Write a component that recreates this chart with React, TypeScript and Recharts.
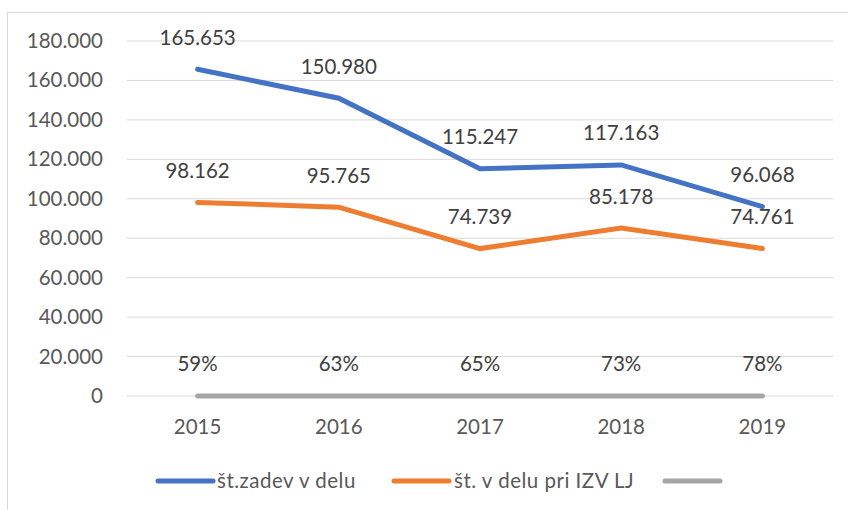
import React from 'react';
import { LineChart, Line, XAxis, YAxis, CartesianGrid, LabelList } from 'recharts';

if (typeof document !== 'undefined') {
  document.body.style.margin = '0';
}

const years = ['2015', '2016', '2017', '2018', '2019'];
const zadev = [165653, 150980, 115247, 117163, 96068];
const izvLj = [98162, 95765, 74739, 85178, 74761];
const share = [0.59, 0.63, 0.65, 0.73, 0.78];
const yTicks = [0, 20000, 40000, 60000, 80000, 100000, 120000, 140000, 160000, 180000];

const seriesNames = ['št.zadev v delu', 'št. v delu pri IZV LJ', ''];
const colors = ['#4472C4', '#ED7D31', '#A5A5A5'];

const data = years.map((y, i) => ({ year: y, a: zadev[i], b: izvLj[i], c: share[i] }));

const FONT = 'Lato, "Open Sans", sans-serif';

const fmtThousands = (v: number) => {
  const s = Math.round(v).toString();
  return s.replace(/\B(?=(\d{3})+(?!\d))/g, '.');
};

const YTick = (props: any) => {
  const { y, payload } = props;
  return (
    <text x={103} y={y + 7} textAnchor="end" fontFamily={FONT} fontSize={20.5} fill="#595959">
      {fmtThousands(payload.value)}
    </text>
  );
};

const XTick = (props: any) => {
  const { x, payload } = props;
  return (
    <text x={x} y={434} textAnchor="middle" fontFamily={FONT} fontSize={20.5} fill="#595959">
      {payload.value}
    </text>
  );
};

const makeLabel = (fmt: (v: number) => string) => (props: any) => {
  const { x, y, value } = props;
  return (
    <text x={x} y={y - 24.5} textAnchor="middle" fontFamily={FONT} fontSize={20.5} fill="#404040">
      {fmt(value)}
    </text>
  );
};

const pct = (v: number) => `${Math.round(v * 100)}%`;

const legendIconX = [158, 394, 665];
const legendTextX = [217, 454, 0];

const LegendBox = () => (
  <svg width={848} height={40} style={{ position: 'absolute', left: 0, top: 461 }}>
    {seriesNames.map((n, i) => (
      <g key={i}>
        <line x1={legendIconX[i]} y1={20} x2={legendIconX[i] + 55} y2={20} stroke={colors[i]} strokeWidth={5} strokeLinecap="round" />
        {n ? (
          <text x={legendTextX[i]} y={27} fontFamily={FONT} fontSize={20.5} fill="#595959" letterSpacing={0.5}>
            {n}
          </text>
        ) : null}
      </g>
    ))}
  </svg>
);

export default function App() {
  return (
    <div style={{ position: 'relative', width: 848, height: 510, overflow: 'hidden', background: '#fff' }}>
      <div
        style={{
          position: 'absolute',
          left: 7,
          top: 12,
          width: 1000,
          height: 700,
          border: '1px solid #D9D9D9',
          boxSizing: 'border-box',
        }}
      />
      <div style={{ position: 'absolute', left: 0, top: 0 }}>
        <LineChart width={848} height={510} data={data} margin={{ top: 41, right: 15, bottom: 84, left: 0 }}>
          <CartesianGrid horizontal vertical={false} stroke="#D9D9D9" strokeWidth={1} />
          <XAxis
            dataKey="year"
            axisLine={false}
            tickLine={false}
            tick={<XTick />}
            interval={0}
            height={30}
            padding={{ left: 70.6, right: 70.6 }}
          />
          <YAxis
            width={127}
            domain={[0, 180000]}
            ticks={yTicks}
            axisLine={false}
            tickLine={false}
            tick={<YTick />}
            interval={0}
          />
          <Line dataKey="c" name=" " stroke={colors[2]} strokeWidth={5} dot={false} isAnimationActive={false} strokeLinecap="round">
            <LabelList dataKey="c" content={makeLabel(pct)} />
          </Line>
          <Line dataKey="b" name={seriesNames[1]} stroke={colors[1]} strokeWidth={5} dot={false} isAnimationActive={false} strokeLinecap="round">
            <LabelList dataKey="b" content={makeLabel(fmtThousands)} />
          </Line>
          <Line dataKey="a" name={seriesNames[0]} stroke={colors[0]} strokeWidth={5} dot={false} isAnimationActive={false} strokeLinecap="round">
            <LabelList dataKey="a" content={makeLabel(fmtThousands)} />
          </Line>
        </LineChart>
      </div>
      <LegendBox />
    </div>
  );
}
